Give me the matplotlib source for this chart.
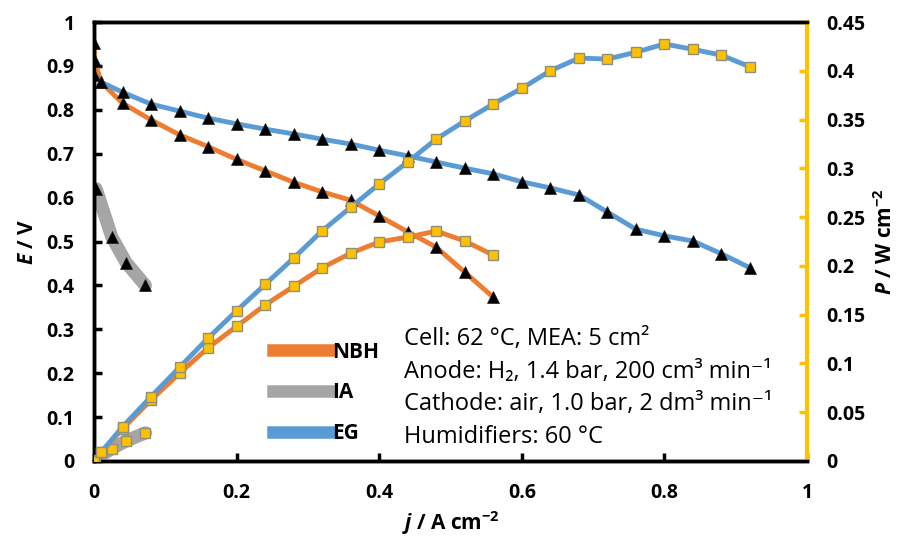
import matplotlib
matplotlib.use("Agg")
import matplotlib.pyplot as plt
from matplotlib.lines import Line2D

# ─── Data ────────────────────────────────────────────────────────────────────
j_nbh = [0, 0.001, 0.01, 0.04, 0.08, 0.12, 0.16, 0.20, 0.24, 0.28, 0.32, 0.36,
         0.40, 0.44, 0.48, 0.52, 0.56]
E_nbh = [0.952, 0.911, 0.863, 0.815, 0.777, 0.743, 0.716, 0.687, 0.661, 0.635,
         0.613, 0.594, 0.558, 0.522, 0.487, 0.430, 0.373]
P_nbh = [0, 0.001, 0.009, 0.033, 0.0625, 0.090, 0.116, 0.138, 0.160, 0.179,
         0.198, 0.213, 0.2245, 0.2295, 0.2357, 0.2255, 0.211]

j_ia = [0.003, 0.025, 0.045, 0.072]
E_ia = [0.620, 0.510, 0.452, 0.400]
P_ia = [0.002, 0.0128, 0.0205, 0.0288]

j_eg = [0, 0.01, 0.04, 0.08, 0.12, 0.16, 0.20, 0.24, 0.28, 0.32, 0.36, 0.40,
        0.44, 0.48, 0.52, 0.56, 0.60, 0.64, 0.68, 0.72, 0.76, 0.80, 0.84, 0.88,
        0.92]
E_eg = [0.879, 0.863, 0.840, 0.813, 0.797, 0.781, 0.768, 0.756, 0.745, 0.733,
        0.722, 0.708, 0.695, 0.681, 0.667, 0.654, 0.636, 0.622, 0.606, 0.567,
        0.528, 0.513, 0.501, 0.472, 0.440]
P_eg = [0, 0.009, 0.035, 0.066, 0.096, 0.126, 0.154, 0.181, 0.208, 0.236,
        0.260, 0.284, 0.3065, 0.330, 0.3485, 0.366, 0.382, 0.400, 0.413, 0.412,
        0.419, 0.4275, 0.422, 0.416, 0.404]

series_names = ["NBH", "IA", "EG"]
notes = ["Cell: 62 °C, MEA: 5 cm²",
         "Anode: H₂, 1.4 bar, 200 cm³ min⁻¹",
         "Cathode: air, 1.0 bar, 2 dm³ min⁻¹",
         "Humidifiers: 60 °C"]

# ─── Style ───────────────────────────────────────────────────────────────────
FONT = ["Open Sans", "DejaVu Sans"]
plt.rcParams["font.family"] = FONT
plt.rcParams["mathtext.fontset"] = "custom"
plt.rcParams["mathtext.it"] = "Open Sans:italic:bold"
plt.rcParams["mathtext.rm"] = "Open Sans:bold"
plt.rcParams["mathtext.bf"] = "Open Sans:bold"

ORANGE = "#ED7D31"
GREY = "#A5A5A5"
BLUE = "#5B9BD5"
GOLD = "#FFC000"

tri = dict(marker="^", markersize=8, markerfacecolor="black",
           markeredgecolor="#1f1f1f", markeredgewidth=0.5)
sq = dict(marker="s", markersize=7.5, markerfacecolor=GOLD,
          markeredgecolor="#8f8f7a", markeredgewidth=1.0)

fig = plt.figure(figsize=(9.11, 5.40), dpi=100)
ax = fig.add_axes([94 / 911, 1 - 461 / 540, 713 / 911, 439 / 540])
ax2 = ax.twinx()

# polarization curves (left axis)
ax.plot(j_nbh, E_nbh, color=ORANGE, lw=3.5, zorder=3, **tri)
ax.plot(j_ia, E_ia, color=GREY, lw=9.5, solid_capstyle="round", zorder=2, **tri)
ax.plot(j_eg, E_eg, color=BLUE, lw=3.5, zorder=4, **tri)

# power density curves (right axis)
ax2.plot(j_nbh, P_nbh, color=ORANGE, lw=3.5, zorder=3, **sq)
ax2.plot(j_ia, P_ia, color=GREY, lw=9.5, solid_capstyle="round", zorder=2, **sq)
ax2.plot(j_eg, P_eg, color=BLUE, lw=3.5, zorder=4, **sq)

ax.set_xlim(0, 1)
ax.set_ylim(0, 1)
ax2.set_ylim(0, 0.45)

ax.set_xticks([0, 0.2, 0.4, 0.6, 0.8, 1])
ax.set_xticklabels(["0", "0.2", "0.4", "0.6", "0.8", "1"])
ax.set_yticks([i / 10 for i in range(11)])
ax.set_yticklabels(["0"] + [f"0.{i}" for i in range(1, 10)] + ["1"])
ax2.set_yticks([i * 0.05 for i in range(10)])
ax2.set_yticklabels(["0", "0.05", "0.1", "0.15", "0.2", "0.25", "0.3",
                     "0.35", "0.4", "0.45"])

for a in (ax, ax2):
    for s in a.spines.values():
        s.set_linewidth(2.5)
        s.set_color("black")
ax2.spines["right"].set_color(GOLD)
ax2.spines["right"].set_linewidth(3)
ax.spines["right"].set_visible(False)

ax.tick_params(axis="both", direction="in", length=6, width=2.5,
               labelsize=14)
ax.tick_params(axis="x", pad=16)
ax.tick_params(axis="y", pad=14)
ax2.tick_params(axis="y", direction="in", length=6, width=2.5, color=GOLD,
                labelsize=14, pad=14)
for lab in ax.get_xticklabels() + ax.get_yticklabels() + ax2.get_yticklabels():
    lab.set_fontweight("bold")

ax.set_xlabel(r"$\mathit{j}$ / A cm$^{-2}$", fontsize=15, fontweight="bold",
              labelpad=4)
ax.set_ylabel(r"$\mathit{E}$ / V", fontsize=15, fontweight="bold", labelpad=6)
ax2.set_ylabel(r"$\mathit{P}$ / W cm$^{-2}$", fontsize=15, fontweight="bold",
               rotation=90, labelpad=6)

# legend (thick line handles only)
handles = [Line2D([], [], color=c, lw=9) for c in (ORANGE, GREY, BLUE)]
leg = ax2.legend(handles, series_names, loc="center left",
                 bbox_to_anchor=(0.251, 0.155), frameon=False, borderpad=0,
                 borderaxespad=0, handlelength=2.7, handletextpad=0.12,
                 labelspacing=0.95, prop={"family": FONT, "weight": "bold",
                                          "size": 15})

# conditions text block
for k, line in enumerate(notes):
    ax2.text(0.435, 0.278 - k * 0.0745, line, transform=ax.transAxes,
             fontsize=17, va="center", ha="left")

fig.savefig("out.png", dpi=100)
